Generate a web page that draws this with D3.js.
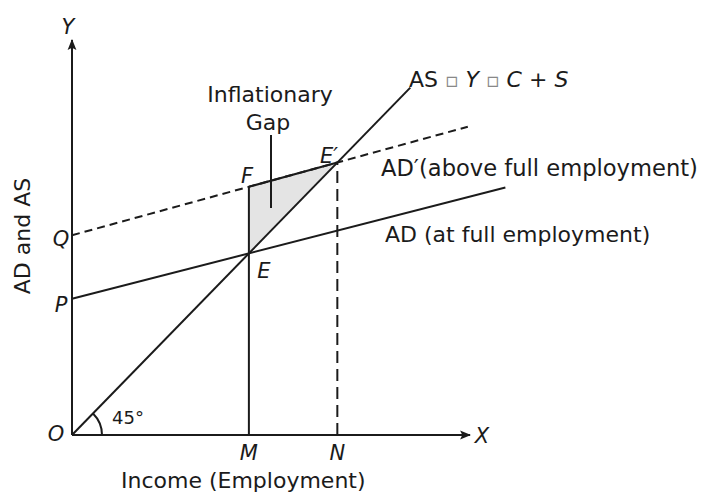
<!DOCTYPE html>
<html><head><meta charset="utf-8">
<script src="https://cdn.jsdelivr.net/npm/d3@7"></script>
<style>
body{margin:0;background:#fff}
text{font-family:"DejaVu Sans",sans-serif;fill:#1b1b1b}
</style>
</head><body>
<svg id="chart" width="703" height="494"></svg>
<script>
// Axis extents (model units)
const xMax = 9, yMax = 8.7;
// Income levels marked on the X axis
const incomeLevels = [{name: "M", x: 4}, {name: "N", x: 6}];
// Aggregate demand at full employment: intercept P and slope
const adIntercept = 3, adSlope = 0.25, adEnd = 9.8;
// Aggregate demand above full employment: intercept Q and slope
const adPrimeIntercept = 4.4, adPrimeSlope = 0.267, adPrimeEnd = 8.95;
// 45 degree aggregate supply line AS = Y
const asEnd = 7.65;

const svg = d3.select("#chart");
const x = d3.scaleLinear().domain([0, xMax]).range([72, 470]);
const y = d3.scaleLinear().domain([0, yMax]).range([435, 40]);
const ink = "#1b1b1b";

const ad = v => adIntercept + adSlope * v;
const adPrime = v => adPrimeIntercept + adPrimeSlope * v;
const xM = incomeLevels[0].x, xN = incomeLevels[1].x;
const E = [xM, xM], Ep = [xN, adPrime(xN)], F = [xM, adPrime(xM)];

const line = d3.line().x(d => x(d[0])).y(d => y(d[1]));

// shaded inflationary gap
svg.append("path").attr("d", line([F, Ep, E]) + "Z").attr("fill", "#e4e4e4");

// arrowheads
const defs = svg.append("defs");
defs.append("marker").attr("id", "arr").attr("viewBox", "0 0 10 10")
  .attr("refX", 9).attr("refY", 5).attr("markerWidth", 11).attr("markerHeight", 11)
  .attr("markerUnits", "userSpaceOnUse").attr("orient", "auto")
  .append("path").attr("d", "M0,1 L10,5 L0,9 L2,5 Z").attr("fill", ink);

// axes
svg.append("path").attr("d", line([[0, 0], [0, yMax]])).attr("stroke", ink).attr("stroke-width", 2).attr("marker-end", "url(#arr)");
svg.append("path").attr("d", line([[0, 0], [xMax, 0]])).attr("stroke", ink).attr("stroke-width", 2).attr("marker-end", "url(#arr)");

// curves
svg.append("path").attr("d", line([[0, 0], [asEnd, asEnd]])).attr("stroke", ink).attr("stroke-width", 2).attr("fill", "none");
svg.append("path").attr("d", line([[0, ad(0)], [adEnd, ad(adEnd)]])).attr("stroke", ink).attr("stroke-width", 2).attr("fill", "none");
svg.append("path").attr("d", line([[0, adPrime(0)], [adPrimeEnd, adPrime(adPrimeEnd)]])).attr("stroke", ink).attr("stroke-width", 2).attr("stroke-dasharray", "8,5").attr("fill", "none");

// verticals at M and N
svg.append("path").attr("d", line([[xM, 0], F])).attr("stroke", ink).attr("stroke-width", 2);
svg.append("path").attr("d", line([[xN, 0], Ep])).attr("stroke", ink).attr("stroke-width", 2).attr("stroke-dasharray", "12,6");
// F to E' edge solid
svg.append("path").attr("d", line([F, Ep])).attr("stroke", ink).attr("stroke-width", 2);

// 45 degree arc
const arc = d3.arc().innerRadius(30).outerRadius(30).startAngle(Math.PI / 4).endAngle(Math.PI / 2);
svg.append("path").attr("d", arc()).attr("transform", `translate(${x(0)},${y(0)})`).attr("stroke", ink).attr("stroke-width", 2).attr("fill", "none");

// gap pointer
svg.append("line").attr("x1", 271).attr("x2", 271).attr("y1", 135).attr("y2", 208).attr("stroke", ink).attr("stroke-width", 2);

// labels
const fs = 22;
function lab(t, px, py, opts = {}) {
  const el = svg.append("text").attr("x", px).attr("y", py).attr("font-size", opts.size || fs)
    .attr("text-anchor", opts.anchor || "middle").text(t);
  if (opts.italic) el.attr("font-style", "italic");
  return el;
}
lab("Y", 68, 34, {italic: true, size: 21});
lab("X", 482, 443, {italic: true, size: 21});
lab("O", 56, 441, {italic: true, size: 21});
lab("Q", 61, 246, {italic: true, size: 21});
lab("P", 61, 312, {italic: true, size: 21});
lab("E", 264, 278, {italic: true, size: 21});
lab("F", 247, 183, {italic: true, size: 21});
lab("E′", 329, 163, {italic: true, size: 21});
incomeLevels.forEach(d => lab(d.name, x(d.x), 460, {italic: true, size: 21}));
lab("45°", 128, 424, {size: 18});
lab("Inflationary", 270, 102);
lab("Gap", 268, 130);
lab("AD′(above full employment)", 381, 176, {anchor: "start", size: 22.6});
lab("AD (at full employment)", 385, 242, {anchor: "start"});
lab("Income (Employment)", 121, 488, {anchor: "start"});
svg.append("text").attr("transform", "translate(30,236) rotate(-90)").attr("font-size", fs)
  .attr("text-anchor", "middle").text("AD and AS");

const asLab = svg.append("text").attr("x", 409).attr("y", 87).attr("font-size", fs);
asLab.append("tspan").text("AS ");
asLab.append("tspan").attr("fill", "#888").attr("font-size", 20).text("▫");
asLab.append("tspan").attr("font-style", "italic").text(" Y ");
asLab.append("tspan").attr("fill", "#888").attr("font-size", 20).text("▫");
asLab.append("tspan").attr("font-style", "italic").text(" C ");
asLab.append("tspan").text("+ ");
asLab.append("tspan").attr("font-style", "italic").text("S");
</script>
</body></html>
